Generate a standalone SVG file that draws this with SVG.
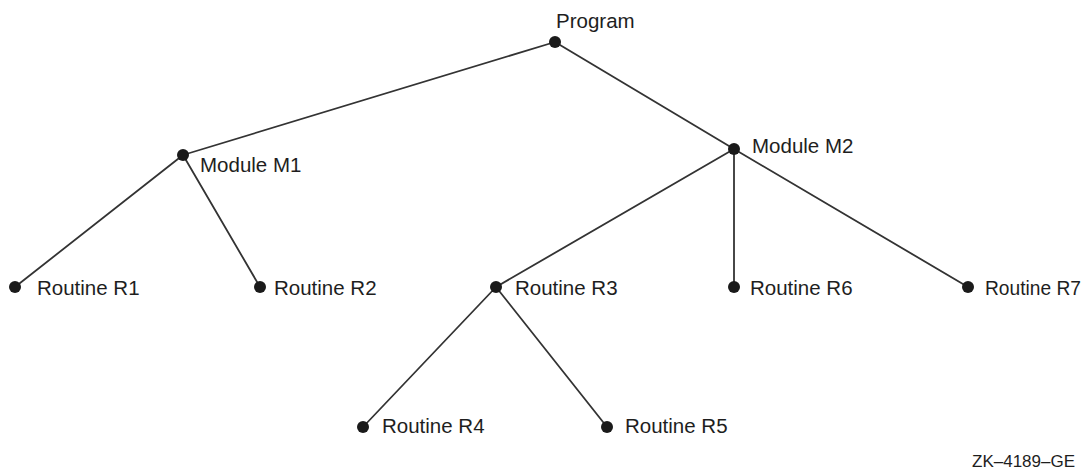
<svg xmlns="http://www.w3.org/2000/svg" width="1086" height="471" viewBox="0 0 1086 471">
<style>
.bg{fill:#ffffff}
.edge{stroke:#333333;stroke-width:1.8;fill:none;stroke-linecap:round}
.dot{fill:#1a1a1a}
.lbl{font-family:"Liberation Sans",Arial,sans-serif;font-size:20.5px;fill:#1e1e1e}
.tag{font-family:"Liberation Sans",Arial,sans-serif;font-size:17px;fill:#1e1e1e}
</style>
<rect class="bg" x="0" y="0" width="1086" height="471"/>
<g id="connectors">
<line class="edge" x1="555" y1="42" x2="183" y2="155"/>
<line class="edge" x1="555" y1="42" x2="734" y2="149"/>
<line class="edge" x1="183" y1="155" x2="15" y2="287"/>
<line class="edge" x1="183" y1="155" x2="260" y2="287"/>
<line class="edge" x1="734" y1="149" x2="496" y2="287"/>
<line class="edge" x1="734" y1="149" x2="734" y2="287"/>
<line class="edge" x1="734" y1="149" x2="968" y2="287"/>
<line class="edge" x1="496" y1="287" x2="363" y2="427"/>
<line class="edge" x1="496" y1="287" x2="607" y2="427"/>
</g>
<g id="program"><circle class="dot" cx="555" cy="42" r="6"/><text class="lbl" x="556" y="28">Program</text></g>
<g id="module-m1"><circle class="dot" cx="183" cy="155" r="6"/><text class="lbl" x="200" y="172">Module M1</text></g>
<g id="module-m2"><circle class="dot" cx="734" cy="149" r="6"/><text class="lbl" x="752" y="153">Module M2</text></g>
<g id="routine-r1"><circle class="dot" cx="15" cy="287" r="6"/><text class="lbl" x="37" y="295">Routine R1</text></g>
<g id="routine-r2"><circle class="dot" cx="260" cy="287" r="6"/><text class="lbl" x="274" y="295">Routine R2</text></g>
<g id="routine-r3"><circle class="dot" cx="496" cy="287" r="6"/><text class="lbl" x="515" y="295">Routine R3</text></g>
<g id="routine-r6"><circle class="dot" cx="734" cy="287" r="6"/><text class="lbl" x="750" y="295">Routine R6</text></g>
<g id="routine-r7"><circle class="dot" cx="968" cy="287" r="6"/><text class="lbl" x="985" y="295" textLength="96" lengthAdjust="spacingAndGlyphs">Routine R7</text></g>
<g id="routine-r4"><circle class="dot" cx="363" cy="427" r="6"/><text class="lbl" x="382" y="433">Routine R4</text></g>
<g id="routine-r5"><circle class="dot" cx="607" cy="427" r="6"/><text class="lbl" x="625" y="433">Routine R5</text></g>
<text class="tag" x="972" y="467">ZK–4189–GE</text>
</svg>
